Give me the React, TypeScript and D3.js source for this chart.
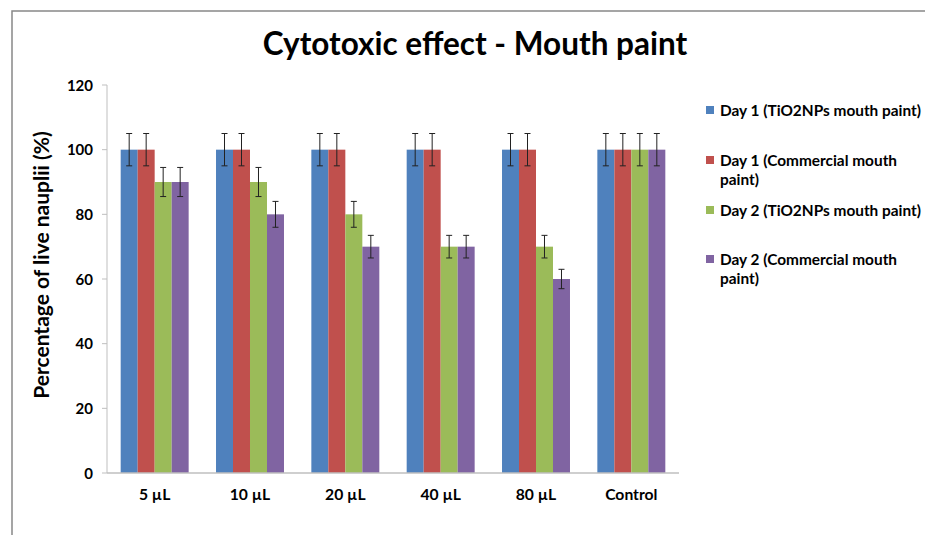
import React from "react";
import * as d3 from "d3";

const categories = ["5 µL", "10 µL", "20 µL", "40 µL", "80 µL", "Control"];
const seriesNames = [
  "Day 1 (TiO2NPs mouth paint)",
  "Day 1 (Commercial mouth paint)",
  "Day 2 (TiO2NPs mouth paint)",
  "Day 2 (Commercial mouth paint)",
];
const day1TiO2 = [100, 100, 100, 100, 100, 100];
const day1Commercial = [100, 100, 100, 100, 100, 100];
const day2TiO2 = [90, 90, 80, 70, 70, 100];
const day2Commercial = [90, 80, 70, 70, 60, 100];
const errorFraction = 0.05;
const yTicks = [0, 20, 40, 60, 80, 100, 120];
const colors = ["#4F81BD", "#C0504D", "#9BBB59", "#8064A2"];
const legendLines = [
  ["Day 1 (TiO2NPs mouth paint)"],
  ["Day 1 (Commercial mouth", "paint)"],
  ["Day 2 (TiO2NPs mouth paint)"],
  ["Day 2 (Commercial mouth", "paint)"],
];

const W = 925;
const H = 535;
const FONT = "Lato, Calibri, 'Open Sans', sans-serif";

export default function App() {
  const series = [day1TiO2, day1Commercial, day2TiO2, day2Commercial];
  const x = d3
    .scaleBand<string>()
    .domain(categories)
    .range([107, 679])
    .paddingInner(0.287)
    .paddingOuter(0.1435);
  const xs = d3
    .scaleBand<number>()
    .domain(d3.range(series.length))
    .range([0, x.bandwidth()]);
  const y = d3.scaleLinear().domain([0, 120]).range([473, 85]);
  const legendY = [116, 166, 216, 265];

  return (
    <svg
      width={W}
      height={H}
      style={{ position: "fixed", left: 0, top: 0, background: "#fff" }}
      fontFamily={FONT}
    >
      <rect x={0} y={0} width={W} height={H} fill="#fff" />
      <rect x={12} y={11} width={W + 10} height={H + 10} fill="#fff" stroke="#888" strokeWidth={1.5} />
      <text x={475} y={55} textAnchor="middle" fontSize={31.5} fontWeight="bold" fill="#000">
        Cytotoxic effect - Mouth paint
      </text>

      {/* y axis */}
      <line x1={107} x2={107} y1={y(120)} y2={y(0)} stroke="#BFBFBF" strokeWidth={1} />
      {yTicks.map((t) => (
        <g key={t}>
          <line x1={102} x2={107} y1={y(t)} y2={y(t)} stroke="#BFBFBF" />
          <text x={93} y={y(t) + 5.5} textAnchor="end" fontSize={15} fontWeight="bold" fill="#000">
            {t}
          </text>
        </g>
      ))}
      <text
        transform={`translate(49,265) rotate(-90)`}
        textAnchor="middle"
        fontSize={21}
        fontWeight="bold"
        fill="#000"
      >
        Percentage of live nauplii (%)
      </text>

      {/* bars */}
      {categories.map((c, ci) => (
        <g key={c}>
          {series.map((s, si) => {
            const bx = (x(c) ?? 0) + (xs(si) ?? 0);
            const v = s[ci];
            return (
              <rect key={si} x={bx} y={y(v)} width={xs.bandwidth()} height={y(0) - y(v)} fill={colors[si]} />
            );
          })}
        </g>
      ))}

      {/* x axis */}
      <line x1={107} x2={679} y1={y(0)} y2={y(0)} stroke="#BFBFBF" strokeWidth={1.5} />
      {categories.map((c) => (
        <text
          key={c}
          x={(x(c) ?? 0) + x.bandwidth() / 2}
          y={500}
          textAnchor="middle"
          fontSize={15.7}
          fontWeight="bold"
          fill="#000"
        >
          {c}
        </text>
      ))}

      {/* error bars */}
      {categories.map((c, ci) => (
        <g key={"e" + c}>
          {series.map((s, si) => {
            const cx = (x(c) ?? 0) + (xs(si) ?? 0) + xs.bandwidth() / 2;
            const v = s[ci];
            const e = v * errorFraction;
            return (
              <g key={si} stroke="#222" strokeWidth={1}>
                <line x1={cx} x2={cx} y1={y(v + e)} y2={y(v - e)} />
                <line x1={cx - 3} x2={cx + 3} y1={y(v + e)} y2={y(v + e)} />
                <line x1={cx - 3} x2={cx + 3} y1={y(v - e)} y2={y(v - e)} />
              </g>
            );
          })}
        </g>
      ))}

      {/* legend */}
      {seriesNames.map((n, i) => (
        <g key={n}>
          <rect x={706} y={legendY[i] - 10} width={8} height={8} fill={colors[i]} />
          <text x={720} y={legendY[i]} fontSize={15.4} fontWeight="bold" fill="#000">
            {legendLines[i].map((l, li) => (
              <tspan key={li} x={720} dy={li === 0 ? 0 : 19}>
                {l}
              </tspan>
            ))}
          </text>
        </g>
      ))}
    </svg>
  );
}
